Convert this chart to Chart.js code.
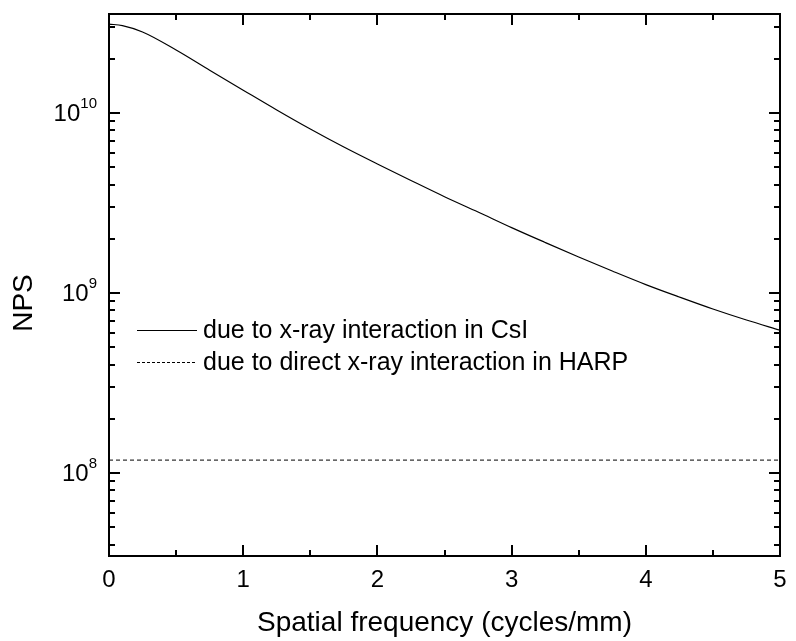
<!DOCTYPE html>
<html>
<head>
<meta charset="utf-8">
<script src="https://cdn.jsdelivr.net/npm/chart.js@4.4.1/dist/chart.umd.min.js"></script>
<style>
  body { margin: 0; background: #fff; }
  #wrap { width: 796px; height: 641px; }
</style>
</head>
<body>
<div id="wrap"><canvas id="nps" width="796" height="641"></canvas></div>
<script>
// spatial frequency (cycles/mm) and NPS
const freq = [0, 0.1, 0.25, 0.5, 0.75, 1, 1.25, 1.5, 1.75, 2, 2.25, 2.5, 2.75, 3, 3.25, 3.5, 3.75, 4, 4.25, 4.5, 4.75, 5];
const npsCsI = [3.12e10, 3.06e10, 2.82e10, 2.24e10, 1.73e10, 1.34e10, 1.04e10, 8.15e9, 6.47e9, 5.21e9, 4.22e9, 3.43e9, 2.82e9, 2.31e9, 1.91e9, 1.585e9, 1.325e9, 1.114e9, 9.5e8, 8.15e8, 7.08e8, 6.22e8];
const freqHARP = [0, 5];
const npsHARP = [1.18e8, 1.18e8];

const seriesLabels = ['due to x-ray interaction in CsI', 'due to direct x-ray interaction in HARP'];
const xMajor = [0, 1, 2, 3, 4, 5];
const xMinor = [0.5, 1.5, 2.5, 3.5, 4.5];
const yMajorExp = [8, 9, 10];
const yMin = 3.46e7, yMax = 3.55e10;

const FONT = '"Liberation Sans", Arial, Helvetica, sans-serif';

const pts = (xs, ys) => xs.map((x, i) => ({ x: x, y: ys[i] }));

// inward ticks, tick labels, titles and legend
const framePlugin = {
  id: 'frame',
  afterDraw(chart) {
    const { ctx, chartArea: a, scales } = chart;
    const xs = scales.x, ys = scales.y;
    ctx.save();
    ctx.strokeStyle = '#000';
    ctx.fillStyle = '#000';

    // ticks
    ctx.lineWidth = 2;
    ctx.beginPath();
    const vTick = (v, len) => {
      const px = Math.round(xs.getPixelForValue(v));
      ctx.moveTo(px, a.bottom); ctx.lineTo(px, a.bottom - len);
      ctx.moveTo(px, a.top); ctx.lineTo(px, a.top + len);
    };
    const hTick = (v, len) => {
      const py = Math.round(ys.getPixelForValue(v));
      ctx.moveTo(a.left, py); ctx.lineTo(a.left + len, py);
      ctx.moveTo(a.right, py); ctx.lineTo(a.right - len, py);
    };
    xMajor.forEach(v => vTick(v, 11));
    xMinor.forEach(v => vTick(v, 6));
    yMajorExp.forEach(e => hTick(Math.pow(10, e), 11));
    for (let e = 7; e <= 10; e++) {
      for (let m = 2; m <= 9; m++) {
        const v = m * Math.pow(10, e);
        if (v > yMin && v < yMax) hTick(v, 6);
      }
    }
    ctx.stroke();

    // box
    ctx.lineWidth = 2;
    ctx.strokeRect(a.left, a.top, a.right - a.left, a.bottom - a.top);

    // x tick labels
    ctx.font = '24px ' + FONT;
    ctx.textAlign = 'center';
    ctx.textBaseline = 'middle';
    xMajor.forEach(v => ctx.fillText(String(v), xs.getPixelForValue(v), a.bottom + 24));

    // y tick labels 10^n
    yMajorExp.forEach(e => {
      const py = ys.getPixelForValue(Math.pow(10, e));
      ctx.font = '15px ' + FONT;
      ctx.textAlign = 'right';
      ctx.textBaseline = 'alphabetic';
      const sup = String(e);
      const supW = ctx.measureText(sup).width;
      ctx.fillText(sup, a.left - 12, py - 5);
      ctx.font = '24px ' + FONT;
      ctx.textBaseline = 'middle';
      ctx.fillText('10', a.left - 12 - supW, py + 1);
    });

    // axis titles
    ctx.font = '28px ' + FONT;
    ctx.textAlign = 'center';
    ctx.textBaseline = 'middle';
    ctx.fillText('Spatial frequency (cycles/mm)', (a.left + a.right) / 2, 623);
    ctx.save();
    ctx.translate(24, 303);
    ctx.rotate(-Math.PI / 2);
    ctx.fillText('NPS', 0, 0);
    ctx.restore();

    // legend
    const legY = [330, 362];
    const dashes = [[], [3, 2]];
    ctx.lineWidth = 1;
    chart.data.datasets.forEach((ds, i) => {
      ctx.setLineDash(dashes[i]);
      ctx.beginPath();
      ctx.moveTo(137, legY[i] + 0.5);
      ctx.lineTo(197, legY[i] + 0.5);
      ctx.stroke();
      ctx.setLineDash([]);
      ctx.font = '25px ' + FONT;
      ctx.textAlign = 'left';
      ctx.textBaseline = 'middle';
      ctx.fillText(ds.label, 203, legY[i] + 1);
    });
    ctx.restore();
  }
};

new Chart(document.getElementById('nps'), {
  type: 'line',
  data: {
    datasets: [{
      label: seriesLabels[0],
      data: pts(freq, npsCsI),
      borderColor: '#000',
      borderWidth: 1.2,
      pointRadius: 0,
      cubicInterpolationMode: 'monotone',
      fill: false
    }, {
      label: seriesLabels[1],
      data: pts(freqHARP, npsHARP),
      borderColor: '#000',
      borderWidth: 1,
      borderDash: [4, 3],
      pointRadius: 0,
      fill: false
    }]
  },
  options: {
    responsive: false,
    animation: false,
    layout: { padding: { left: 109, right: 16, top: 14, bottom: 85 } },
    plugins: {
      legend: { display: false },
      tooltip: { enabled: false }
    },
    scales: {
      x: {
        type: 'linear',
        min: 0,
        max: 5,
        display: false
      },
      y: {
        type: 'logarithmic',
        min: yMin,
        max: yMax,
        display: false
      }
    }
  },
  plugins: [framePlugin]
});
</script>
</body>
</html>
